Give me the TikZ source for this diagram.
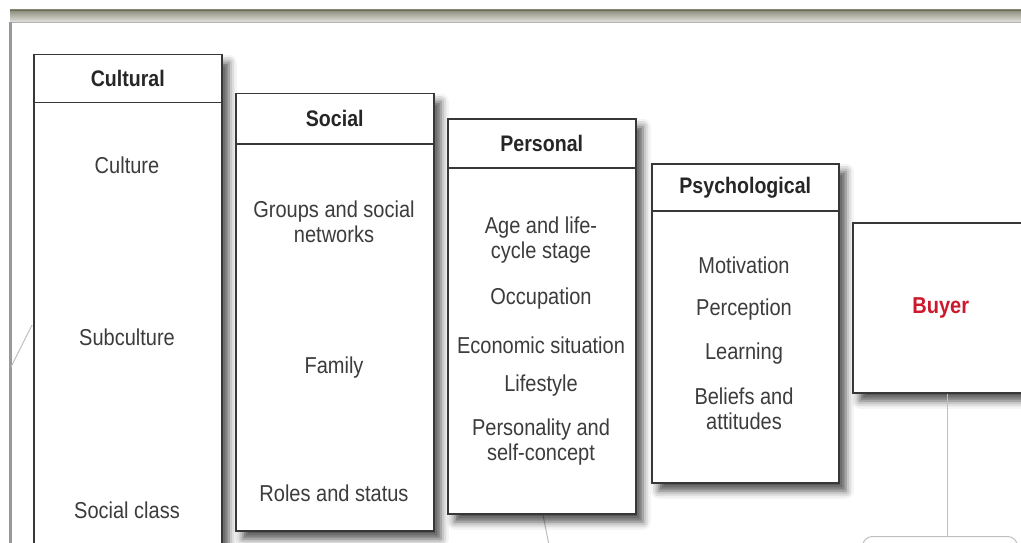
\documentclass[tikz,border=0pt]{standalone}
\usepackage{fontspec}
\setmainfont{Liberation Sans}[FakeStretch=0.87]
\usepackage{tikz}
\usetikzlibrary{positioning,shadows.blur}

\definecolor{boxline}{RGB}{55,55,55}
\definecolor{itemtext}{RGB}{60,60,60}
\definecolor{buyerred}{RGB}{205,25,45}
\definecolor{barline}{RGB}{110,110,88}

\begin{document}
\begin{tikzpicture}[
  x=1pt,y=-1pt,
  col/.style={rectangle,draw=boxline,line width=1.5pt,fill=white,inner sep=0pt,anchor=north west,
    blur shadow={shadow xshift=7pt,shadow yshift=-8pt,shadow blur radius=8pt,shadow opacity=70}},
  hdr/.style={rectangle,draw=boxline,line width=1.5pt,inner sep=0pt,text=black!85,
    font=\fontsize{22.5}{26}\selectfont\bfseries},
  item/.style={align=center,text=itemtext,font=\fontsize{23}{25}\selectfont},
  link/.style={draw=black!25,line width=1pt}
]
  \useasboundingbox (0,0) rectangle (1021,543);
  \clip (0,0) rectangle (1021,543);

  % window frame
  \fill[top color=barline!80,bottom color=barline!20] (10,10) rectangle (1021,22);
  \draw[barline,line width=1.2pt] (10,10.5) -- (1021,10.5);
  \draw[black!30,line width=0.8pt] (10,22) -- (1021,22);
  \fill[black!40] (9,22) rectangle (12,543);

  % lines leaving the boxes
  \coordinate (lft) at (11,367);
  \coordinate (pb) at (549,545);
  \node[rectangle,rounded corners=10pt,draw=black!25,line width=1pt,minimum width=155pt,
    minimum height=40pt,anchor=north west] (nxt) at (862,536) {};
  \draw[link] (32,325) -- (lft);
  \draw[link] (541,505) -- (pb);

  % cultural
  \node[col,minimum width=188pt,minimum height=560pt] (cult) at (33,54) {};
  \node[hdr,minimum width=188pt,minimum height=48pt,below=0pt of cult.north] (cultH) {Cultural};
  \node[item] (culture) at (127,165) {Culture};
  \node[item] (subcult) at (127,337) {Subculture};
  \node[item] (sclass) at (127,510) {Social class};

  % social
  \node[col,minimum width=198pt,minimum height=437pt] (soc) at (235,93) {};
  \node[hdr,minimum width=198pt,minimum height=50pt,below=0pt of soc.north] (socH) {Social};
  \node[item] (groups) at (334,222) {Groups and social\\networks};
  \node[item] (family) at (334,368) {Family};
  \node[item] (roles) at (334,493) {Roles and status};

  % personal
  \node[col,minimum width=188pt,minimum height=395pt] (pers) at (447,118) {};
  \node[hdr,minimum width=188pt,minimum height=49pt,below=0pt of pers.north] (persH) {Personal};
  \node[item] (age) at (541,240) {Age and life-\\cycle stage};
  \node[item] (occ) at (541,299) {Occupation};
  \node[item] (econ) at (541,345) {Economic situation};
  \node[item] (life) at (541,386) {Lifestyle};
  \node[item] (persty) at (541,442) {Personality and\\self-concept};

  % psychological
  \node[col,minimum width=187pt,minimum height=319pt] (psy) at (651,163) {};
  \node[hdr,minimum width=187pt,minimum height=47pt,below=0pt of psy.north] (psyH) {Psychological};
  \node[item] (motiv) at (744,265) {Motivation};
  \node[item] (perc) at (744,310) {Perception};
  \node[item] (learn) at (744,354) {Learning};
  \node[item] (beliefs) at (744,409) {Beliefs and\\attitudes};

  % buyer
  \node[col,minimum width=186pt,minimum height=170pt,text=buyerred,
    font=\fontsize{23}{25}\selectfont\bfseries] (buyer) at (852,222) {\hspace*{-10pt}Buyer};
  \draw[link] ([xshift=2pt]buyer.south) -- ([xshift=2pt]buyer.south |- nxt.north);
\end{tikzpicture}
\end{document}
